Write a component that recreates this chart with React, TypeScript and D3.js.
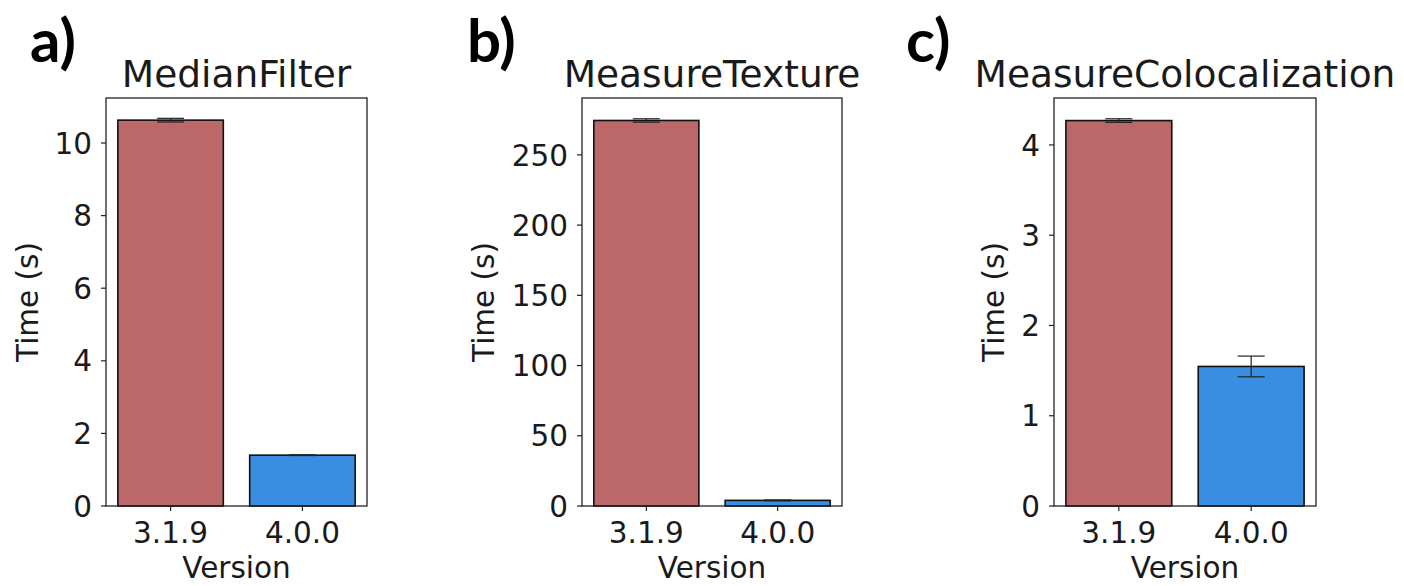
import React from "react";
import * as d3 from "d3";

// ---- data ----
const panelLetters = ["a)", "b)", "c)"];
const titles = ["MedianFilter", "MeasureTexture", "MeasureColocalization"];
const versions = ["3.1.9", "4.0.0"];

const medianFilterTimes = [10.63, 1.4];
const medianFilterErrors = [0.05, 0.01];
const measureTextureTimes = [274.5, 4.0];
const measureTextureErrors = [1.2, 0.3];
const measureColocTimes = [4.27, 1.546];
const measureColocErrors = [0.02, 0.115];

const medianFilterTicks = [0, 2, 4, 6, 8, 10];
const measureTextureTicks = [0, 50, 100, 150, 200, 250];
const measureColocTicks = [0, 1, 2, 3, 4];

const yMaxes = [11.24, 290.5, 4.52];

const xLabel = "Version";
const yLabel = "Time (s)";

const barColors = ["#BC6769", "#3A8EE2"];

// ---- layout ----
const W = 1404;
const H = 586;
const axTop = 98;
const axBottom = 506;
const axLefts = [106, 582, 1054];
const axRights = [367, 842, 1316];
const ylabelX = [38, 494, 1004];
const letterX = [30, 467, 906];

const tickFont = 29.5;
const titleFont = 37.5;
const font = "'DejaVu Sans', sans-serif";

type PanelData = { values: number[]; errors: number[]; ticks: number[] };
const panelData: PanelData[] = [
  { values: medianFilterTimes, errors: medianFilterErrors, ticks: medianFilterTicks },
  { values: measureTextureTimes, errors: measureTextureErrors, ticks: measureTextureTicks },
  { values: measureColocTimes, errors: measureColocErrors, ticks: measureColocTicks },
];

function Panel({ i }: { i: number }) {
  const d = panelData[i];
  const left = axLefts[i];
  const right = axRights[i];
  const x = d3.scaleLinear().domain([-0.49, 1.49]).range([left, right]);
  const y = d3.scaleLinear().domain([0, yMaxes[i]]).range([axBottom, axTop]);
  const bw = x(0.8) - x(0);
  const cap = 13.5;
  const cx = (left + right) / 2;
  return (
    <g>
      <text
        x={letterX[i]}
        y={62}
        fontFamily="Lato, 'Open Sans', sans-serif"
        fontWeight={700}
        fontSize={60}
        fill="#000"
      >
        {panelLetters[i]}
      </text>
      <text x={cx} y={87} textAnchor="middle" fontFamily={font} fontSize={titleFont} fill="#1a1a1a">
        {titles[i]}
      </text>
      {d.values.map((v, k) => (
        <rect
          key={"b" + k}
          x={x(k) - bw / 2}
          y={y(v)}
          width={bw}
          height={axBottom - y(v)}
          fill={barColors[k]}
          stroke="#111"
          strokeWidth={1.6}
        />
      ))}
      {d.values.map((v, k) => {
        const e = d.errors[k];
        const xc = x(k);
        return (
          <g key={"e" + k} stroke="#222" strokeWidth={1.2}>
            <line x1={xc} x2={xc} y1={y(v + e)} y2={y(v - e)} />
            <line x1={xc - cap} x2={xc + cap} y1={y(v + e)} y2={y(v + e)} />
            <line x1={xc - cap} x2={xc + cap} y1={y(v - e)} y2={y(v - e)} />
          </g>
        );
      })}
      <rect x={left} y={axTop} width={right - left} height={axBottom - axTop} fill="none" stroke="#222" strokeWidth={1.3} />
      {d.ticks.map((t) => (
        <g key={"t" + t}>
          <line x1={left - 5} x2={left} y1={y(t)} y2={y(t)} stroke="#222" strokeWidth={1.2} />
          <text
            x={left - 14}
            y={y(t)}
            dy="0.36em"
            textAnchor="end"
            fontFamily={font}
            fontSize={tickFont}
            fill="#1a1a1a"
          >
            {t}
          </text>
        </g>
      ))}
      {versions.map((v, k) => (
        <g key={"x" + k}>
          <line x1={x(k)} x2={x(k)} y1={axBottom} y2={axBottom + 5} stroke="#222" strokeWidth={1.2} />
          <text x={x(k)} y={543} textAnchor="middle" fontFamily={font} fontSize={tickFont} fill="#1a1a1a">
            {v}
          </text>
        </g>
      ))}
      <text x={cx} y={578} textAnchor="middle" fontFamily={font} fontSize={tickFont} fill="#1a1a1a">
        {xLabel}
      </text>
      <text
        transform={`translate(${ylabelX[i]},${(axTop + axBottom) / 2}) rotate(-90)`}
        textAnchor="middle"
        fontFamily={font}
        fontSize={tickFont}
        fill="#1a1a1a"
      >
        {yLabel}
      </text>
    </g>
  );
}

export default function App() {
  return (
    <svg
      width={W}
      height={H}
      viewBox={`0 0 ${W} ${H}`}
      style={{ position: "absolute", left: 0, top: 0, background: "#fff" }}
    >
      <rect x={0} y={0} width={W} height={H} fill="#fff" />
      {[0, 1, 2].map((i) => (
        <Panel key={i} i={i} />
      ))}
    </svg>
  );
}
